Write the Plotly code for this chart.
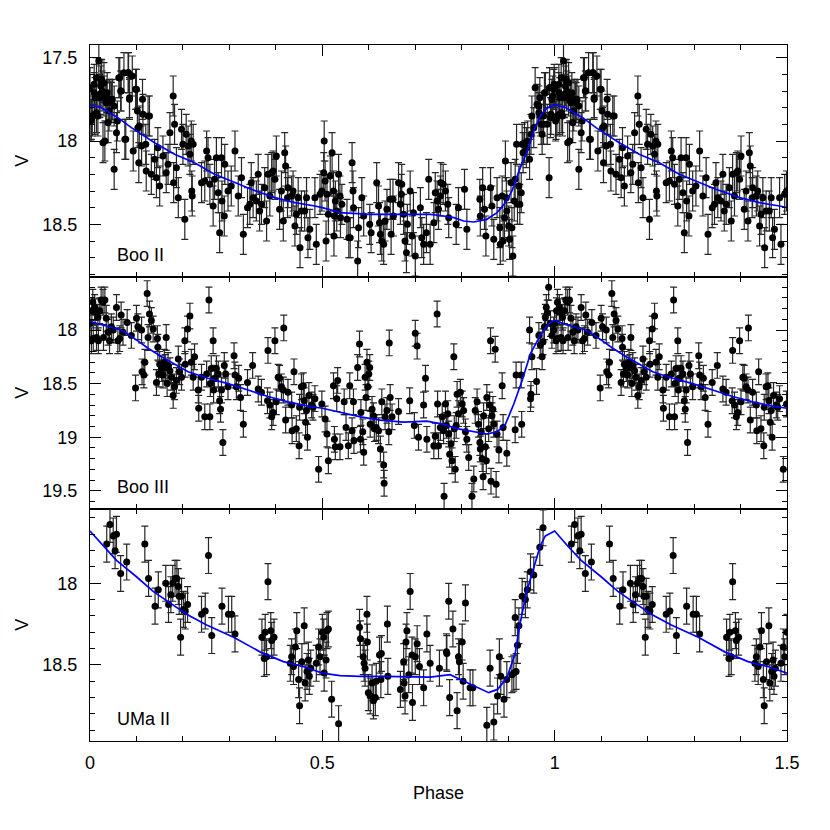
import plotly.graph_objects as go
from plotly.subplots import make_subplots

# --- Boo II (phase, V), phase 0..1 ---
boo2_phase = [
    0.019, 0.000, 0.009, 0.014, 0.024, 0.030, 0.021, 0.026, 0.003, 0.010,
    0.017, 0.035, 0.042, 0.046, 0.039, 0.032, 0.028, 0.057, 0.052, 0.064,
    0.067, 0.082, 0.085, 0.075, 0.100, 0.114, 0.103, 0.093, 0.111, 0.105,
    0.125, 0.128, 0.121, 0.132, 0.139, 0.146, 0.143, 0.150, 0.157, 0.164,
    0.168, 0.172, 0.179, 0.182, 0.180, 0.186, 0.190, 0.197, 0.200, 0.204,
    0.207, 0.211, 0.215, 0.218, 0.222, 0.219, 0.220, 0.240, 0.251, 0.254,
    0.247, 0.258, 0.265, 0.268, 0.272, 0.276, 0.279, 0.283, 0.284, 0.289,
    0.290, 0.297, 0.304, 0.312, 0.319, 0.326, 0.330, 0.339, 0.344, 0.347,
    0.351, 0.358, 0.362, 0.365, 0.369, 0.376, 0.380, 0.383, 0.387, 0.391,
    0.394, 0.398, 0.401, 0.408, 0.412, 0.416, 0.419, 0.421, 0.425, 0.426,
    0.434, 0.437, 0.441, 0.444, 0.448, 0.452, 0.455, 0.462, 0.466, 0.469,
    0.473, 0.484, 0.487, 0.495,
    0.504, 0.503, 0.506, 0.499, 0.510, 0.513, 0.508, 0.521, 0.517, 0.524,
    0.528, 0.526, 0.525, 0.531, 0.535, 0.538, 0.539, 0.542, 0.553, 0.557,
    0.560, 0.564, 0.566, 0.567, 0.576, 0.578, 0.585, 0.589, 0.602, 0.605,
    0.617, 0.621, 0.623, 0.625, 0.628, 0.632, 0.635, 0.639, 0.646, 0.648,
    0.652, 0.653, 0.664, 0.668, 0.670, 0.671, 0.675, 0.678, 0.681, 0.683,
    0.689, 0.693, 0.696, 0.700, 0.711, 0.714, 0.718, 0.724, 0.729, 0.732,
    0.740, 0.743, 0.747, 0.750, 0.754, 0.755, 0.760, 0.765, 0.770, 0.772,
    0.788, 0.793, 0.806, 0.811, 0.839, 0.840, 0.845, 0.849, 0.852, 0.862,
    0.865, 0.869, 0.876, 0.882, 0.883, 0.887, 0.889, 0.892, 0.894, 0.896,
    0.897, 0.901, 0.903, 0.906, 0.908, 0.910, 0.913, 0.915, 0.918, 0.920,
    0.923, 0.925, 0.928, 0.930, 0.932, 0.935, 0.939, 0.942, 0.946, 0.949,
    0.951, 0.955, 0.958, 0.962, 0.966, 0.968, 0.971, 0.973, 0.976, 0.978,
    0.984, 0.988, 0.989, 0.992, 0.996, 0.999,
    0.966, 0.969, 0.976, 0.980, 0.989, 0.991, 0.994, 0.998, 0.002, 0.005,
    0.009, 0.011, 0.014, 0.021, 0.023, 0.025, 0.030, 0.034, 0.037, 0.041,
    0.045, 0.048, 0.052, 0.059, 0.062, 0.066, 0.073, 0.077, 0.083, 0.085,
    0.091, 0.098, 0.102, 0.106, 0.113, 0.120,
]
boo2_v = [
    17.52, 17.68, 17.71, 17.62, 17.64, 17.65, 17.74, 17.70, 17.87, 17.84,
    17.85, 17.77, 17.75, 17.77, 17.89, 18.00, 18.01, 17.95, 18.17, 17.62,
    17.70, 17.59, 17.74, 17.99, 17.69, 17.84, 17.92, 18.06, 18.03, 18.13,
    17.85, 17.85, 18.18, 18.20, 18.11, 18.04, 18.22, 18.27, 18.09, 18.19,
    18.14, 17.95, 17.73, 17.90, 18.25, 18.16, 18.34, 17.93, 18.02, 18.47,
    17.96, 18.03, 18.08, 18.00, 18.02, 18.30, 18.33, 18.25, 18.06, 18.10,
    18.24, 18.26, 18.39, 18.23, 18.10, 18.31, 18.55, 18.10, 18.36, 18.45,
    18.14, 18.30, 18.27, 18.06, 18.33, 18.22, 18.56, 18.40, 18.38, 18.25,
    18.34, 18.36, 18.20, 18.42, 18.38, 18.28, 18.48, 18.20, 18.33, 18.19,
    18.18, 18.23, 18.09, 18.41, 18.30, 18.48, 18.07, 18.15, 18.34, 18.28,
    18.33, 18.30, 18.51, 18.44, 18.34, 18.64, 18.42, 18.42, 18.34, 18.58,
    18.53, 18.34, 18.62, 18.32,
    18.00, 18.19, 18.24, 18.30, 18.32, 18.44, 18.60, 18.07, 18.21, 18.30,
    18.36, 18.45, 18.57, 18.42, 18.20, 18.33, 18.46, 18.38, 18.47, 18.58,
    18.58, 18.13, 18.30, 18.40, 18.72, 18.52, 18.34, 18.45, 18.50, 18.55,
    18.25, 18.39, 18.49, 18.56, 18.60, 18.62, 18.48, 18.41, 18.35, 18.56,
    18.35, 18.45, 18.25, 18.38, 18.32, 18.26, 18.44, 18.60, 18.67, 18.50,
    18.30, 18.57, 18.43, 18.69, 18.40, 18.58, 18.62, 18.55, 18.23, 18.62,
    18.49, 18.31, 18.36, 18.41, 18.33, 18.25, 18.26, 18.30, 18.38, 18.46,
    18.50, 18.40, 18.29, 18.53, 18.35, 18.45, 18.28, 18.41, 18.57, 18.28,
    18.39, 18.59, 18.34, 18.52, 18.62, 18.33, 18.60, 18.46, 18.12, 18.34,
    18.42, 18.51, 18.59, 18.25, 18.52, 18.69, 18.36, 18.23, 18.02, 18.38,
    18.27, 18.38, 18.31, 18.02, 18.07, 18.01, 18.04, 18.00, 18.11, 17.96,
    17.85, 17.92, 17.68, 17.78, 17.83, 17.74, 17.90, 17.96, 17.85, 17.71,
    17.90, 18.22, 17.68, 17.84, 17.73, 17.66,
    17.79, 17.85, 17.90, 17.71, 17.68, 17.86, 17.75, 17.69, 17.88, 17.85,
    17.66, 17.74, 17.83, 17.72, 17.67, 17.63, 17.73, 17.76, 17.71, 17.82,
    17.76, 17.75, 17.79, 17.88, 17.62, 17.70, 17.59, 17.99, 17.59, 17.75,
    17.61, 17.69, 17.82, 17.91, 17.75, 18.02,
]
boo2_err = 0.12

# --- Boo III ---
boo3_phase = [
    0.000, 0.004, 0.006, 0.010, 0.011, 0.014, 0.017, 0.021, 0.024, 0.028,
    0.032, 0.007, 0.003, 0.018, 0.029, 0.035, 0.039, 0.042, 0.046, 0.050,
    0.057, 0.060, 0.064, 0.067, 0.071, 0.080, 0.089, 0.098, 0.100, 0.103,
    0.111, 0.112, 0.116, 0.118, 0.123, 0.125, 0.128, 0.132, 0.136, 0.143,
    0.145, 0.146, 0.148, 0.150, 0.154, 0.157, 0.160, 0.162, 0.164, 0.166,
    0.168, 0.172, 0.175, 0.179, 0.182, 0.186, 0.190, 0.193, 0.197, 0.204,
    0.205, 0.210, 0.215, 0.218, 0.222, 0.225, 0.233, 0.234, 0.240, 0.247,
    0.251, 0.256, 0.258, 0.259, 0.261, 0.265, 0.266, 0.268, 0.272, 0.276,
    0.279, 0.281, 0.283, 0.286, 0.289, 0.292, 0.297, 0.310, 0.312, 0.315,
    0.320, 0.324, 0.330, 0.339, 0.350, 0.362, 0.369, 0.382, 0.383, 0.387,
    0.391, 0.394, 0.398, 0.401, 0.405, 0.408, 0.412, 0.416, 0.417, 0.421,
    0.426, 0.434, 0.435, 0.439, 0.444, 0.450, 0.451, 0.455, 0.459, 0.461,
    0.464, 0.466, 0.468, 0.471, 0.477, 0.480, 0.484, 0.492,
    0.499, 0.506, 0.510, 0.513, 0.524, 0.526, 0.528, 0.533, 0.531, 0.538,
    0.547, 0.551, 0.556, 0.559, 0.564, 0.567, 0.568, 0.576, 0.580, 0.582,
    0.583, 0.587, 0.589, 0.592, 0.594, 0.596, 0.598, 0.600, 0.602, 0.603,
    0.607, 0.610, 0.612, 0.616, 0.621, 0.625, 0.628, 0.632, 0.633, 0.635,
    0.639, 0.643, 0.644, 0.646, 0.650, 0.664, 0.688, 0.698, 0.700, 0.704,
    0.707, 0.718, 0.722, 0.725, 0.740, 0.743, 0.747, 0.748, 0.750, 0.754,
    0.758, 0.761, 0.762, 0.765, 0.767, 0.770, 0.772, 0.774, 0.777, 0.779,
    0.783, 0.784, 0.786, 0.788, 0.790, 0.793, 0.797, 0.801, 0.804, 0.808,
    0.811, 0.815, 0.822, 0.826, 0.829, 0.833, 0.836, 0.839, 0.840, 0.842,
    0.844, 0.846, 0.847, 0.851, 0.853, 0.854, 0.858, 0.860, 0.862, 0.863,
    0.865, 0.867, 0.869, 0.872, 0.874, 0.876, 0.880, 0.887, 0.889, 0.897,
    0.915, 0.917, 0.928, 0.929, 0.946, 0.948, 0.949, 0.951, 0.961, 0.966,
    0.969, 0.973, 0.975, 0.978, 0.980, 0.982, 0.984, 0.987, 0.991, 0.994,
    0.998,
]
boo3_v = [
    17.94, 17.82, 17.74, 17.79, 17.83, 18.07, 17.88, 17.82, 17.72, 17.74,
    17.72, 18.08, 18.10, 18.10, 18.07, 17.89, 18.02, 18.10, 17.97, 18.00,
    17.79, 18.10, 18.08, 17.86, 18.02, 17.93, 18.05, 18.54, 17.89, 17.97,
    18.00, 18.39, 18.42, 18.30, 17.66, 18.07, 17.85, 17.91, 17.99, 18.49,
    18.08, 18.16, 18.41, 18.32, 18.36, 18.42, 18.30, 18.35, 18.07, 18.50,
    18.33, 18.38, 18.44, 18.61, 18.53, 18.47, 18.27, 18.39, 18.44, 18.10,
    18.32, 17.99, 17.87, 18.30, 18.44, 18.25, 18.56, 18.73, 18.44, 18.81,
    18.41, 17.72, 18.81, 18.50, 18.36, 18.10, 18.56, 18.45, 18.36, 18.41,
    18.66, 18.74, 18.56, 19.05, 18.33, 18.41, 18.53, 18.24, 18.42, 18.53,
    18.45, 18.63, 18.88, 18.49, 18.33, 18.55, 18.58, 18.66, 18.19, 18.70,
    18.81, 18.77, 18.10, 18.67, 18.44, 18.45, 18.53, 18.56, 17.98, 18.84,
    18.58, 18.70, 18.94, 18.39, 18.92, 19.08, 18.72, 18.53, 18.52, 18.66,
    18.86, 18.75, 19.00, 18.61, 18.70, 18.72, 18.64, 19.30,
    18.69, 18.83, 18.97, 19.22, 18.52, 19.02, 19.09, 18.47, 18.64, 19.09,
    18.67, 18.91, 19.08, 18.52, 18.94, 18.67, 19.03, 18.35, 18.13, 19.02,
    18.77, 18.95, 19.14, 18.44, 18.63, 18.30, 18.53, 18.41, 18.35, 18.88,
    18.74, 18.80, 18.92, 18.91, 18.94, 19.11, 18.67, 19.26, 19.43, 18.81,
    18.75, 18.95, 18.12, 18.63, 18.81, 18.76, 18.66, 18.89, 18.03, 18.15,
    19.00, 18.70, 18.45, 19.02, 19.08, 18.99, 17.85, 18.69, 19.08, 18.91,
    18.81, 18.94, 19.55, 18.69, 18.89, 18.78, 18.97, 19.16, 19.06, 19.22,
    18.25, 18.92, 19.30, 18.89, 18.60, 18.78, 18.58, 18.69, 18.75, 18.95,
    19.02, 19.19, 19.55, 19.39, 18.75, 18.67, 18.88, 19.05, 19.11, 18.95,
    19.20, 19.37, 18.80, 19.09, 19.22, 18.63, 18.92, 18.70, 18.10, 19.41,
    18.80, 18.74, 18.88, 18.18, 19.44, 18.97, 19.12, 18.52, 18.91, 19.15,
    18.93, 18.42, 18.42, 18.88, 18.00, 18.64, 18.60, 18.25, 18.48, 18.05,
    18.14, 18.25, 18.11, 17.97, 17.88, 17.79, 17.84, 17.60, 17.94, 18.05,
    18.00,
]
boo3_err = 0.12

# --- UMa II ---
uma2_phase = [
    0.036, 0.043, 0.050, 0.054, 0.057, 0.066, 0.079, 0.118, 0.126, 0.140,
    0.147, 0.163, 0.169, 0.174, 0.178, 0.183, 0.187, 0.190, 0.192, 0.195,
    0.197, 0.201, 0.205, 0.210, 0.240, 0.248, 0.255, 0.262, 0.284, 0.298,
    0.305, 0.312, 0.370, 0.375, 0.377, 0.383, 0.380, 0.389, 0.391, 0.396,
    0.431, 0.434, 0.438, 0.442, 0.445, 0.449, 0.451, 0.456, 0.461, 0.463,
    0.467, 0.470, 0.472, 0.475, 0.487, 0.492, 0.495, 0.500, 0.503, 0.504,
    0.508, 0.510, 0.513, 0.520, 0.535, 0.580, 0.582, 0.588, 0.590, 0.592,
    0.596, 0.597, 0.599, 0.603, 0.607, 0.610, 0.614, 0.616, 0.623, 0.626,
    0.627, 0.640, 0.641, 0.668, 0.675, 0.676, 0.678, 0.680, 0.682, 0.686,
    0.689, 0.693, 0.694, 0.700, 0.704, 0.709, 0.718, 0.725, 0.732, 0.752,
    0.767, 0.768, 0.772, 0.774, 0.781, 0.790, 0.793, 0.795, 0.801, 0.803,
    0.808, 0.818, 0.824, 0.854, 0.861, 0.869, 0.877, 0.881, 0.884, 0.891,
    0.897, 0.908, 0.912, 0.915, 0.917, 0.920, 0.923, 0.930, 0.937, 0.941,
    0.948, 0.955, 0.968, 0.975,
]
uma2_v = [
    17.76, 17.64, 17.71, 17.80, 17.70, 17.94, 17.87, 17.76, 17.97, 18.14,
    18.04, 18.00, 18.13, 18.07, 18.00, 17.97, 17.97, 18.02, 18.08, 18.33,
    18.08, 18.16, 18.17, 18.13, 18.19, 18.17, 17.83, 18.32, 18.14, 18.19,
    18.19, 18.31, 18.33, 18.46, 18.30, 17.99, 18.45, 18.29, 18.35, 18.33,
    18.49, 18.45, 18.51, 18.39, 18.29, 18.59, 18.75, 18.48, 18.26, 18.61,
    18.54, 18.47, 18.57, 18.52, 18.49, 18.39, 18.45, 18.30, 18.33, 18.55,
    18.47, 18.29, 18.28, 18.71, 18.86, 18.27, 18.34, 18.45, 18.49, 18.52,
    18.19, 18.36, 18.67, 18.69, 18.61, 18.72, 18.70, 18.60, 18.44, 18.59,
    18.43, 18.25, 18.57, 18.65, 18.48, 18.61, 18.69, 18.36, 18.29, 18.56,
    18.05, 18.44, 18.73, 18.45, 18.37, 18.51, 18.64, 18.31, 18.49, 18.52,
    18.42, 18.43, 18.11, 18.70, 18.28, 18.78, 18.45, 18.48, 18.36, 18.60,
    18.12, 18.64, 18.64, 18.87, 18.52, 18.85, 18.69, 18.45, 18.57, 18.71,
    18.59, 18.56, 18.55, 18.21, 18.54, 18.38, 18.26, 18.08, 18.10, 18.04,
    17.93, 17.95, 17.78, 17.66,
]
uma2_err = 0.11

# --- template light curves (blue) ---
boo2_tpl_phase = [0.0, 0.024, 0.060, 0.089, 0.139, 0.182, 0.225, 0.268, 0.304, 0.347,
                  0.398, 0.441, 0.484, 0.5, 0.539, 0.603, 0.675, 0.732, 0.761, 0.783,
                  0.804, 0.826, 0.854, 0.876, 0.894, 0.908, 0.926, 0.941, 0.955, 0.969,
                  0.984, 1.0]
boo2_tpl_v = [17.784, 17.80, 17.86, 17.92, 18.01, 18.08, 18.13, 18.20, 18.24, 18.29,
              18.34, 18.37, 18.39, 18.40, 18.43, 18.44, 18.44, 18.44, 18.45, 18.46,
              18.48, 18.486, 18.47, 18.43, 18.37, 18.30, 18.16, 18.06, 17.94, 17.85,
              17.80, 17.784]

boo3_tpl_phase = [0.0, 0.032, 0.067, 0.096, 0.125, 0.154, 0.182, 0.211, 0.254, 0.297,
                  0.340, 0.383, 0.426, 0.469, 0.5, 0.539, 0.582, 0.625, 0.675, 0.725,
                  0.761, 0.790, 0.826, 0.854, 0.876, 0.894, 0.912, 0.930, 0.948, 0.969,
                  0.987, 1.0]
boo3_tpl_v = [17.92, 17.96, 18.00, 18.08, 18.17, 18.25, 18.32, 18.39, 18.45, 18.50,
              18.56, 18.62, 18.67, 18.71, 18.73, 18.77, 18.81, 18.84, 18.86, 18.85,
              18.88, 18.92, 18.95, 18.97, 18.95, 18.88, 18.69, 18.47, 18.22, 18.05,
              17.94, 17.91]

uma2_tpl_phase = [0.0, 0.029, 0.057, 0.100, 0.136, 0.172, 0.208, 0.251, 0.309, 0.366,
                  0.416, 0.459, 0.5, 0.538, 0.581, 0.632, 0.689, 0.732, 0.775, 0.797,
                  0.833, 0.858, 0.877, 0.897, 0.915, 0.926, 0.939, 0.955, 0.969, 0.980,
                  1.0]
uma2_tpl_v = [17.68, 17.775, 17.86, 17.96, 18.05, 18.12, 18.19, 18.255, 18.33, 18.42,
              18.48, 18.51, 18.55, 18.565, 18.57, 18.57, 18.575, 18.575, 18.56, 18.59,
              18.64, 18.67, 18.65, 18.58, 18.43, 18.24, 18.06, 17.90, 17.77, 17.71,
              17.68]

names = ["Boo II", "Boo III", "UMa II"]
y_ranges = [[18.816, 17.424], [19.67, 17.505], [18.966, 17.545]]


def fold(phase, v, start=0.0):
    # the plot repeats the first half cycle after phase 1
    ph = list(phase) + [p + 1 for p in phase if start < p <= 0.5]
    mv = list(v) + [m for p, m in zip(phase, v) if start < p <= 0.5]
    return ph, mv


panels = [
    (boo2_phase, boo2_v, boo2_err, boo2_tpl_phase, boo2_tpl_v),
    (boo3_phase, boo3_v, boo3_err, boo3_tpl_phase, boo3_tpl_v),
    (uma2_phase, uma2_v, uma2_err, uma2_tpl_phase, uma2_tpl_v),
]

fig = make_subplots(rows=3, cols=1, shared_xaxes=True, vertical_spacing=0)

for i, (ph, v, err, tph, tv) in enumerate(panels):
    row = i + 1
    x, y = fold(ph, v, start=-1.0)
    fig.add_trace(go.Scatter(
        x=x, y=y, mode="markers",
        marker=dict(color="black", size=7),
        error_y=dict(type="constant", value=err, color="#262626",
                     thickness=1.2, width=3.5),
    ), row=row, col=1)
    tx, ty = fold(tph, tv)
    fig.add_trace(go.Scatter(
        x=tx, y=ty, mode="lines",
        line=dict(color="#0000ff", width=1.7),
    ), row=row, col=1)
    fig.update_yaxes(range=y_ranges[i], row=row, col=1)
    ydom = "y domain" if i == 0 else f"y{row} domain"
    fig.add_annotation(text=names[i], xref="x domain", yref=ydom,
                       x=0.036, y=0.095, xanchor="left", yanchor="middle",
                       showarrow=False, font=dict(size=18))
    fig.add_annotation(text="V", xref="paper", yref=ydom,
                       x=-0.098, y=0.5, textangle=-90, xanchor="center", yanchor="middle",
                       showarrow=False, font=dict(size=18))

fig.update_xaxes(range=[0, 1.5], tick0=0, dtick=0.5, ticks="inside", ticklen=11,
                 tickcolor="black", tickwidth=1,
                 minor=dict(dtick=0.1, ticks="inside", ticklen=5, tickcolor="black"),
                 showline=True, linecolor="black", linewidth=1, mirror="allticks",
                 showgrid=False, zeroline=False, ticklabelstandoff=5)
fig.update_yaxes(tick0=0, dtick=0.5, ticks="inside", ticklen=11,
                 tickcolor="black", tickwidth=1,
                 minor=dict(dtick=0.1, ticks="inside", ticklen=5, tickcolor="black"),
                 showline=True, linecolor="black", linewidth=1, mirror="allticks",
                 showgrid=False, zeroline=False, ticklabelstandoff=8)

fig.add_annotation(text="Phase", xref="paper", yref="paper", x=0.5, y=-0.075,
                   xanchor="center", yanchor="middle", showarrow=False, font=dict(size=18))

# the page body adds an 8 px offset, so the figure is sized to fit inside the window
fig.update_layout(
    width=814, height=814,
    margin=dict(l=82, r=35, t=37, b=81),
    plot_bgcolor="white", paper_bgcolor="white",
    showlegend=False,
    font=dict(family="Liberation Sans, Arial, sans-serif", size=18, color="black"),
)

fig.write_html("out.html")
